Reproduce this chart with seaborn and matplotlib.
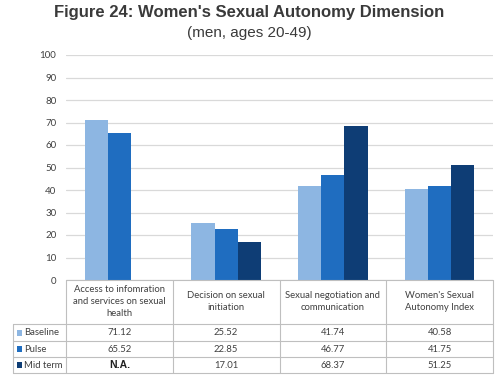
import numpy as np
import pandas as pd
import matplotlib
matplotlib.use("Agg")
import matplotlib.pyplot as plt
import seaborn as sns
from matplotlib.transforms import blended_transform_factory
from matplotlib.lines import Line2D
from matplotlib.patches import Rectangle

categories = ["Access to infomration\nand services on sexual\nhealth",
              "Decision on sexual\ninitiation",
              "Sexual negotiation and\ncommunication",
              "Women's Sexual\nAutonomy Index"]
series = ["Baseline", "Pulse", "Midterm"]
baseline = [71.12, 25.52, 41.74, 40.58]
pulse = [65.52, 22.85, 46.77, 41.75]
midterm = [np.nan, 17.01, 68.37, 51.25]
table_text = {
    "Baseline": ["71.12", "25.52", "41.74", "40.58"],
    "Pulse": ["65.52", "22.85", "46.77", "41.75"],
    "Midterm": ["N.A.", "17.01", "68.37", "51.25"],
}
row_labels = ["Baseline", "Pulse", "Mid term"]
colors = ["#8DB6E2", "#1F6DC0", "#0E3D75"]
yticks = list(range(0, 101, 10))

rows = []
for s, vals in zip(series, [baseline, pulse, midterm]):
    for c, v in zip(categories, vals):
        rows.append({"category": c, "series": s, "value": v})
df = pd.DataFrame(rows)

sns.set_style("white")
W, H = 499, 377
fig = plt.figure(figsize=(W / 100, H / 100), dpi=100)
ax = fig.add_axes([66 / W, 1 - 280 / H, (493 - 66) / W, 225 / H])

sns.barplot(data=df, x="category", y="value", hue="series", order=categories,
            hue_order=series, palette=colors, width=0.65, dodge=True,
            saturation=1, errorbar=None, ax=ax, legend=False, linewidth=0)

ax.set_ylim(0, 100)
ax.set_xlim(-0.5, 3.5)
ax.set_yticks(yticks)
ax.set_yticklabels([str(t) for t in yticks], fontsize=7, color="#404040", family="Lato")
ax.tick_params(axis="y", length=0, pad=7)
ax.set_xticks([])
ax.set_xlabel("")
ax.set_ylabel("")
ax.grid(axis="y", color="#D9D9D9", linewidth=0.9)
ax.set_axisbelow(True)
for sp in ax.spines.values():
    sp.set_visible(False)

fig.text(0.5, 1 - 13 / H, "Figure 24: Women's Sexual Autonomy Dimension",
         ha="center", va="center", fontsize=12.0, fontweight="bold",
         family="Liberation Sans", color="#3A3A3A")
fig.text(0.5, 1 - 33 / H, "(men, ages 20-49)", ha="center", va="center",
         fontsize=11, family="Liberation Sans", color="#3A3A3A")

# table below the axis
tr = blended_transform_factory(ax.transData, fig.transFigure)
def fy(px):
    return 1 - px / H
lc = "#BFBFBF"
lw = 0.8
x_left = -1.0
bounds = [-0.5, 0.5, 1.5, 2.5, 3.5]
row_lines = [280, 324, 341, 357, 373]
fig.add_artist(Line2D([-0.5, 3.5], [fy(280)] * 2, transform=tr, color=lc, lw=lw))
for y in row_lines[1:]:
    fig.add_artist(Line2D([x_left, 3.5], [fy(y)] * 2, transform=tr, color=lc, lw=lw))
for xb in bounds:
    fig.add_artist(Line2D([xb, xb], [fy(280), fy(373)], transform=tr, color=lc, lw=lw))
fig.add_artist(Line2D([x_left, x_left], [fy(324), fy(373)], transform=tr, color=lc, lw=lw))

for i, c in enumerate(categories):
    fig.text(i, fy(301.5), c, transform=tr, ha="center", va="center",
             fontsize=6.8, family="Lato", color="#404040", linespacing=1.5)

row_centers = [332.5, 349, 365]
for r, (s, lab, col, yc) in enumerate(zip(series, row_labels, colors, row_centers)):
    fig.text(x_left + 0.11, fy(yc), lab, transform=tr, ha="left", va="center",
             fontsize=6.8, family="Lato", color="#404040")
    fig.add_artist(Rectangle((x_left + 0.045, fy(yc + 3)), 0.045, 6 / H,
                             transform=tr, facecolor=col, edgecolor="none"))
    for i, t in enumerate(table_text[s]):
        if t == "N.A.":
            fig.text(i, fy(yc), t, transform=tr, ha="center", va="center",
                     fontsize=7.5, family="Liberation Sans", fontweight="bold",
                     color="#202020")
        else:
            fig.text(i, fy(yc), t, transform=tr, ha="center", va="center",
                     fontsize=6.8, family="Lato", color="#404040")

fig.savefig("out.png", dpi=100)
